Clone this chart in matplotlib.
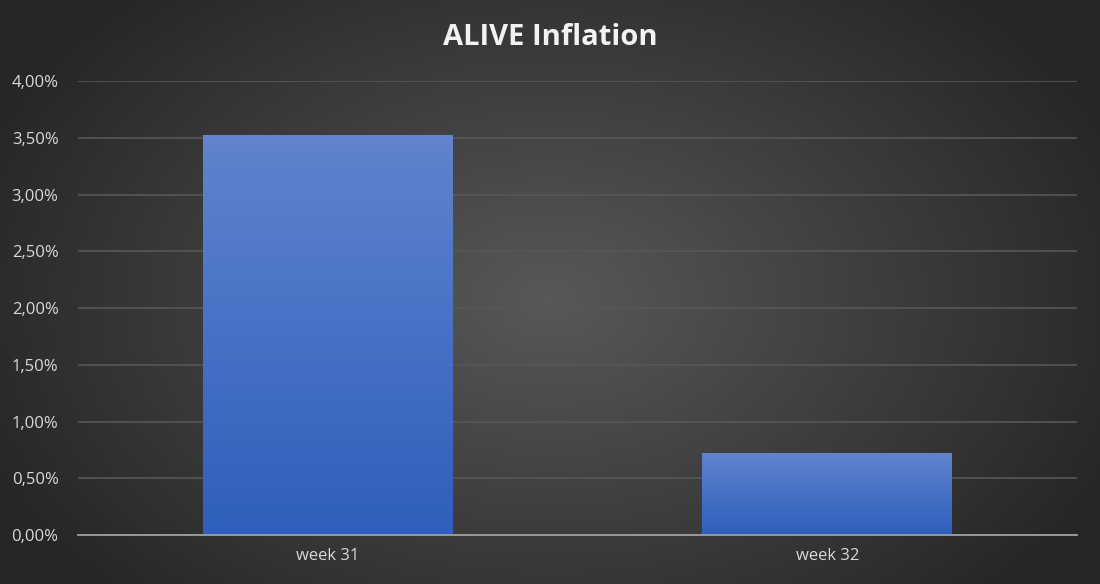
import matplotlib
matplotlib.use("Agg")
import matplotlib.pyplot as plt
import numpy as np
from matplotlib.ticker import FuncFormatter

categories = ["week 31", "week 32"]
inflation = [3.52, 0.72]  # percent

plt.rcParams['font.family'] = ['Open Sans', 'DejaVu Sans']

fig = plt.figure(figsize=(11, 5.84), dpi=100)

# radial background
bg = fig.add_axes([0, 0, 1, 1], zorder=-10)
yy, xx = np.mgrid[0:584, 0:1100]
r = np.sqrt(((xx - 550) / 620.0) ** 2 + ((yy - 300) / 420.0) ** 2)
r = np.clip(r, 0, 1)
c0 = np.array([0x58, 0x58, 0x58]) / 255
c1 = np.array([0x26, 0x26, 0x26]) / 255
img = c0[None, None, :] * (1 - r[..., None]) + c1[None, None, :] * r[..., None]
bg.imshow(img, aspect="auto", extent=[0, 1, 0, 1])
bg.axis("off")

ax = fig.add_axes([0.0709, 0.0839, 0.9082, 0.7774])
ax.patch.set_alpha(0)
x = np.arange(len(categories))
bars = ax.bar(x, inflation, width=0.5, color="#4472c4", zorder=3)

# vertical gradient on each bar
grad = np.linspace(0, 1, 256)[:, None]
top = np.array([0x60, 0x84, 0xcd]) / 255
bot = np.array([0x2f, 0x5e, 0xbc]) / 255
gimg = top[None, None, :] * (1 - grad[..., None]) + bot[None, None, :] * grad[..., None]
gimg = np.repeat(gimg, 2, axis=1)
for b in bars:
    bx, by = b.get_x(), b.get_y()
    w, h = b.get_width(), b.get_height()
    im = ax.imshow(gimg, extent=[bx, bx + w, by, by + h], aspect="auto", zorder=4)
    im.set_clip_path(b)

ax.set_xlim(-0.5, 1.5)
ax.set_ylim(0, 4.0)
ax.set_yticks(np.arange(0, 4.01, 0.5))
ax.yaxis.set_major_formatter(FuncFormatter(lambda v, p: f"{v:.2f}%".replace(".", ",")))
ax.set_xticks(x)
ax.set_xticklabels(categories)
ax.grid(axis="y", color="#575757", linewidth=1.2, zorder=0)
for s in ["top", "right", "left"]:
    ax.spines[s].set_visible(False)
ax.spines["bottom"].set_color("#a0a0a0")
ax.spines["bottom"].set_linewidth(1.3)
ax.spines["bottom"].set_zorder(5)
ax.tick_params(axis="both", length=0, colors="#d9d9d9", labelsize=12)
ax.tick_params(axis="x", pad=9)
ax.tick_params(axis="y", pad=14)

fig.text(0.5, 0.935, "ALIVE Inflation", ha="center", va="center",
         color="#f2f2f2", fontsize=21, fontweight="bold")

fig.savefig("out.png", dpi=100)
